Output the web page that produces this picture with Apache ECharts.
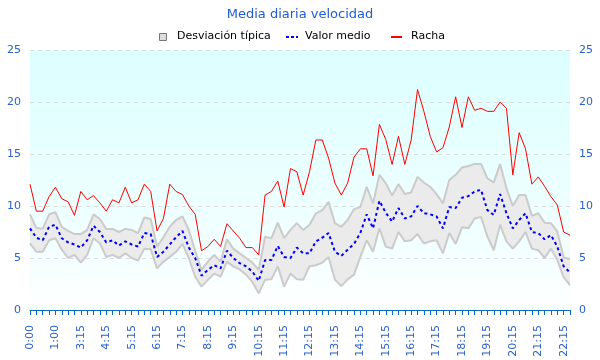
<!DOCTYPE html>
<html>
<head>
<meta charset="utf-8">
<script src="https://cdn.jsdelivr.net/npm/echarts@6/dist/echarts.min.js"></script>
<style>html,body{margin:0;padding:0;background:#fff}#c{width:600px;height:360px}</style>
</head>
<body>
<div id="c"></div>
<script>
var categories = ["0:00","0:15","0:30","0:45","1:00","1:15","2:45","3:00",
"3:15","3:30","3:45","4:00","4:15","4:30","4:45","5:00",
"5:15","5:30","5:45","6:00","6:15","6:30","6:45","7:00",
"7:15","7:30","7:45","8:00","8:15","8:30","8:45","9:00",
"9:15","9:30","9:45","10:00","10:15","10:30","10:45","11:00",
"11:15","11:30","11:45","12:00","12:15","12:30","12:45","13:00",
"13:15","13:30","13:45","14:00","14:15","14:30","14:45","15:00",
"15:15","15:30","15:45","16:00","16:15","16:30","16:45","17:00",
"17:15","17:30","17:45","18:00","18:15","18:30","18:45","19:00",
"19:15","19:30","19:45","20:00","20:15","20:30","20:45","21:00",
"21:15","21:30","21:45","22:00","22:15","22:30"];

var racha = [12.1, 9.5, 9.5, 10.9, 11.8, 10.7, 10.4, 9.1, 11.4, 10.6,
11.0, 10.3, 9.5, 10.6, 10.3, 11.8, 10.3, 10.6, 12.1, 11.4,
7.6, 8.8, 12.1, 11.4, 11.1, 10.0, 9.2, 5.7, 6.1, 6.8,
6.1, 8.3, 7.6, 6.9, 6.0, 6.0, 5.3, 11.05, 11.4, 12.4,
9.9, 13.6, 13.3, 11.05, 13.3, 16.35, 16.35, 14.6, 12.2, 11.05,
12.2, 14.7, 15.5, 15.5, 12.9, 17.85, 16.4, 14.0, 16.7, 14.0,
16.35, 21.2, 19.1, 16.7, 15.2, 15.6, 17.6, 20.5, 17.55, 20.5,
19.2, 19.4, 19.1, 19.1, 20.0, 19.4, 13.0, 17.05, 15.5, 12.1,
12.8, 11.9, 10.9, 10.1, 7.5, 7.2];

var valorMedio = [7.85, 6.95, 6.7, 8.0, 8.2, 6.9, 6.5, 6.3, 6.0, 6.7,
8.1, 7.5, 6.5, 6.7, 6.2, 6.6, 6.3, 6.1, 7.4, 7.3,
5.1, 5.6, 6.3, 7.0, 7.6, 6.0, 5.0, 3.3, 3.85, 4.3,
4.0, 5.7, 5.0, 4.5, 4.2, 3.7, 2.8, 4.8, 4.8, 6.15,
5.1, 5.0, 6.0, 5.45, 5.45, 6.6, 6.95, 7.4, 5.6, 5.2,
5.8, 6.35, 7.4, 9.2, 7.85, 10.5, 9.35, 8.5, 9.8, 8.8,
9.0, 10.0, 9.3, 9.2, 9.0, 7.85, 9.9, 9.8, 10.8, 10.95,
11.4, 11.55, 9.6, 9.15, 11.15, 9.3, 7.85, 8.65, 9.3, 7.5,
7.4, 6.8, 7.2, 6.1, 4.2, 3.6];

var desvSup = [9.2, 7.9, 7.8, 9.2, 9.4, 8.0, 7.6, 7.3, 7.3, 7.7,
9.2, 8.75, 7.8, 7.8, 7.5, 7.8, 7.7, 7.4, 8.9, 8.75,
6.1, 7.0, 8.0, 8.65, 9.0, 7.7, 5.7, 3.85, 4.65, 5.3,
4.65, 6.8, 5.9, 5.45, 5.0, 4.55, 3.85, 7.05, 6.9, 8.4,
6.9, 7.7, 8.35, 7.7, 8.2, 9.3, 9.6, 10.4, 8.35, 8.0,
8.65, 9.7, 9.9, 11.85, 10.25, 13.0, 12.2, 11.0, 12.1, 11.15,
11.3, 12.8, 12.25, 11.85, 11.15, 10.25, 12.5, 13.0, 13.7, 13.85,
14.05, 14.05, 12.65, 12.25, 14.05, 11.7, 10.0, 11.05, 11.05, 9.05,
9.3, 8.4, 8.35, 7.55, 5.05, 4.9];

var desvInf = [6.4, 5.6, 5.6, 6.7, 6.9, 5.8, 5.0, 5.3, 4.55, 5.3,
6.9, 6.4, 5.1, 5.3, 5.0, 5.45, 5.0, 4.75, 5.9, 5.85,
4.0, 4.65, 5.1, 5.6, 6.35, 5.0, 3.2, 2.25, 2.9, 3.5,
3.2, 4.65, 4.2, 3.9, 3.4, 2.7, 1.6, 2.9, 2.95, 4.2,
2.25, 3.5, 2.95, 2.9, 4.2, 4.3, 4.55, 5.1, 2.9, 2.3,
2.95, 3.4, 5.1, 6.7, 5.6, 7.85, 6.1, 5.9, 7.5, 6.6,
6.7, 7.3, 6.4, 6.6, 6.7, 5.45, 7.4, 6.35, 7.95, 7.85,
8.8, 8.95, 7.05, 5.75, 8.2, 6.6, 5.9, 6.6, 7.5, 5.9,
5.75, 5.0, 5.9, 4.8, 3.15, 2.4];

var legendNames = ['Desviación típica', 'Valor medio', 'Racha'];
var yTicks = [0, 5, 10, 15, 20, 25];

var bandHeight = desvSup.map(function (v, i) { return +(v - desvInf[i]).toFixed(2); });

var FONT = 'DejaVu Sans';
var LABEL_BLUE = '#2a62c9';
var AXIS_BLUE = '#0a6ad0';

var chart = echarts.init(document.getElementById('c'), null, {renderer: 'canvas'});

function yAxisCfg(pos) {
  return {
    type: 'value', position: pos, min: yTicks[0], max: yTicks[yTicks.length - 1], interval: 5,
    axisLine: {show: false}, axisTick: {show: false},
    axisLabel: {color: LABEL_BLUE, fontSize: 11, fontFamily: FONT, margin: 9},
    splitLine: pos === 'left' ? {show: true, lineStyle: {color: '#dcdcdc', type: [4, 4], width: 1}} : {show: false}
  };
}

var legendFont = '11px "DejaVu Sans"';
var LY = 37;
var legendGraphic = [
  {type: 'rect', shape: {x: 159.5, y: 33.5, width: 7, height: 7},
   style: {fill: '#dddddd', stroke: '#777777', lineWidth: 1}},
  {type: 'text', x: 177, y: LY - 1, style: {text: legendNames[0], font: legendFont, fill: '#000', verticalAlign: 'middle'}},
  {type: 'line', shape: {x1: 286, y1: LY, x2: 298, y2: LY},
   style: {stroke: '#0000ff', lineWidth: 2, lineDash: [3, 2]}},
  {type: 'text', x: 305, y: LY - 1, style: {text: legendNames[1], font: legendFont, fill: '#000', verticalAlign: 'middle'}},
  {type: 'line', shape: {x1: 391, y1: LY, x2: 402, y2: LY},
   style: {stroke: '#ff0000', lineWidth: 2}},
  {type: 'text', x: 411, y: LY - 1, style: {text: legendNames[2], font: legendFont, fill: '#000', verticalAlign: 'middle'}}
];

chart.setOption({
  animation: false,
  backgroundColor: '#ffffff',
  title: {
    text: 'Media diaria velocidad', left: 'center', top: 3,
    textStyle: {fontFamily: FONT, fontSize: 13, fontWeight: 'normal', color: '#1f5cd6'}
  },
  graphic: legendGraphic,
  grid: {
    left: 30, right: 30, top: 50, bottom: 50, show: true, borderWidth: 0,
    backgroundColor: {type: 'linear', x: 0, y: 0, x2: 0, y2: 1,
      colorStops: [{offset: 0, color: '#dcffff'}, {offset: 0.75, color: '#f2ffff'}, {offset: 1, color: '#ffffff'}]}
  },
  xAxis: {
    type: 'category', data: categories, boundaryGap: false,
    axisLine: {lineStyle: {color: AXIS_BLUE, width: 1}},
    axisTick: {show: true, interval: 0, length: 5, lineStyle: {color: AXIS_BLUE}},
    axisLabel: {interval: 3, rotate: 90, color: LABEL_BLUE, fontSize: 11, fontFamily: FONT, margin: 15},
    splitLine: {show: false}
  },
  yAxis: [yAxisCfg('left'), yAxisCfg('right')],
  series: [
    {name: 'base', type: 'line', stack: 'sd', data: desvInf, symbol: 'none', silent: true,
     lineStyle: {width: 0, opacity: 0}, z: 1},
    {name: legendNames[0], type: 'line', stack: 'sd', data: bandHeight, symbol: 'none', silent: true,
     lineStyle: {width: 0, opacity: 0}, itemStyle: {color: '#dddddd'},
     areaStyle: {color: '#ebebeb', opacity: 1}, z: 1},
    {name: 'sup', type: 'line', data: desvSup, symbol: 'none', silent: true,
     lineStyle: {color: '#cbcbcb', width: 2}, z: 2},
    {name: 'inf', type: 'line', data: desvInf, symbol: 'none', silent: true,
     lineStyle: {color: '#cbcbcb', width: 2}, z: 2},
    {name: legendNames[1], type: 'line', data: valorMedio, symbol: 'none',
     itemStyle: {color: '#0000ff'},
     lineStyle: {color: '#0000ff', width: 2, type: [3, 3]}, z: 3},
    {name: legendNames[2], type: 'line', data: racha, symbol: 'none',
     itemStyle: {color: '#ff0000'},
     lineStyle: {color: '#ff0000', width: 1}, z: 4}
  ]
});
</script>
</body>
</html>
